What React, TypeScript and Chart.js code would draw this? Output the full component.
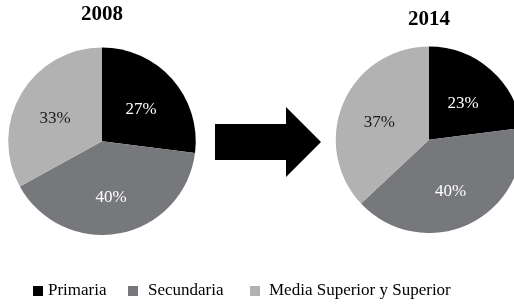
import React, { useEffect, useRef } from "react";
import { Chart, registerables } from "chart.js";

Chart.register(...registerables);

const categories = ["Primaria", "Secundaria", "Media Superior y Superior"];
const years = ["2008", "2014"];
const values2008 = [27, 40, 33];
const values2014 = [23, 40, 37];
const sliceColors = ["#000000", "#77787b", "#b2b2b2"];
const labelColors = ["#ffffff", "#ffffff", "#1a1a1a"];

const SERIF = "'Liberation Serif', 'Times New Roman', serif";

const pctLabels = {
  id: "pctLabels",
  afterDatasetsDraw(chart: any) {
    const ctx = chart.ctx;
    const meta = chart.getDatasetMeta(0);
    const data = chart.data.datasets[0].data as number[];
    ctx.save();
    ctx.font = `17px ${SERIF}`;
    ctx.textAlign = "center";
    ctx.textBaseline = "middle";
    meta.data.forEach((arc: any, i: number) => {
      const p = arc.getProps(["x", "y", "startAngle", "endAngle", "outerRadius"], true);
      const mid = (p.startAngle + p.endAngle) / 2;
      const r = p.outerRadius * 0.57;
      ctx.fillStyle = labelColors[i];
      ctx.fillText(`${data[i]}%`, p.x + Math.cos(mid) * r - 1, p.y + Math.sin(mid) * r + 4);
    });
    ctx.restore();
  },
};

function makePie(canvas: HTMLCanvasElement, title: string, values: number[], padTop: number, padBottom: number) {
  return new Chart(canvas, {
    type: "pie",
    data: {
      labels: categories,
      datasets: [
        {
          data: values,
          backgroundColor: sliceColors,
          borderWidth: 0,
        },
      ],
    },
    options: {
      responsive: false,
      animation: false,
      layout: { padding: 0 },
      plugins: {
        legend: { display: false },
        tooltip: { enabled: false },
        title: {
          display: true,
          text: title,
          color: "#000000",
          font: { family: SERIF, size: 21, weight: "bold", lineHeight: 1.2 },
          padding: { top: padTop, bottom: padBottom },
        },
      },
    },
    plugins: [pctLabels],
  });
}

export default function App() {
  const c1 = useRef<HTMLCanvasElement>(null);
  const c2 = useRef<HTMLCanvasElement>(null);

  useEffect(() => {
    document.body.style.margin = "0";
    const ch1 = makePie(c1.current!, years[0], values2008, 2.4, 19.9);
    const ch2 = makePie(c2.current!, years[1], values2014, 6.9, 14.4);
    return () => {
      ch1.destroy();
      ch2.destroy();
    };
  }, []);

  const legendItems = [
    { sq: 33, tx: 48 },
    { sq: 128, tx: 148 },
    { sq: 250, tx: 269 },
  ];

  return (
    <div
      style={{
        position: "fixed",
        left: 0,
        top: 0,
        width: 514,
        height: 304,
        overflow: "hidden",
        background: "#ffffff",
      }}
    >
      <canvas
        ref={c1}
        width={200}
        height={235}
        style={{ position: "absolute", left: 2, top: 0, width: 200, height: 235 }}
      />
      <canvas
        ref={c2}
        width={200}
        height={233}
        style={{ position: "absolute", left: 329, top: 0, width: 200, height: 233 }}
      />
      <svg
        width={514}
        height={304}
        style={{ position: "absolute", left: 0, top: 0, pointerEvents: "none" }}
      >
        <polygon points="215,124 286,124 286,107 321,142 286,177 286,160 215,160" fill="#000000" />
      </svg>
      {categories.map((c, i) => (
        <React.Fragment key={c}>
          <div
            style={{
              position: "absolute",
              left: legendItems[i].sq,
              top: 286,
              width: 10,
              height: 10,
              background: sliceColors[i],
            }}
          />
          <div
            style={{
              position: "absolute",
              left: legendItems[i].tx,
              top: 281,
              font: `17px ${SERIF}`,
              lineHeight: "17px",
              color: "#000000",
              whiteSpace: "nowrap",
            }}
          >
            {c}
          </div>
        </React.Fragment>
      ))}
    </div>
  );
}
